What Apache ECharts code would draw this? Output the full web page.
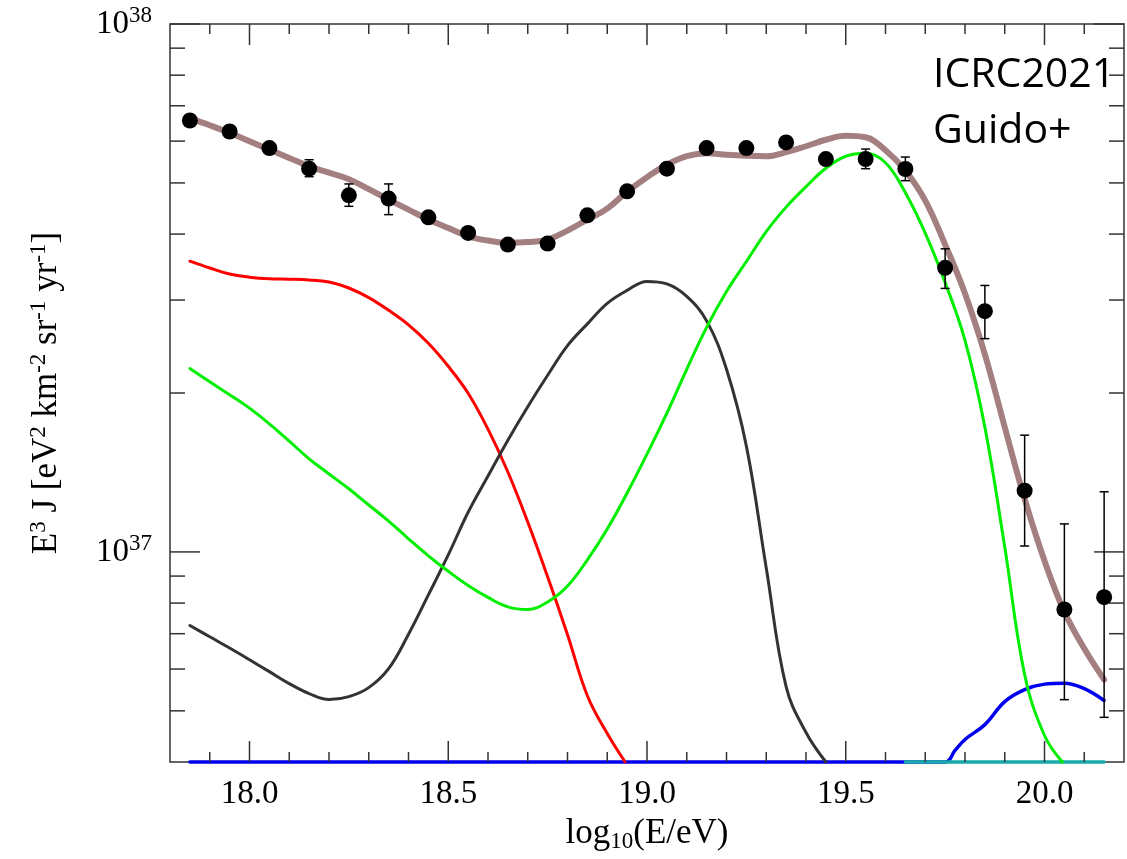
<!DOCTYPE html>
<html><head><meta charset="utf-8">
<script src="https://cdn.jsdelivr.net/npm/echarts@6/dist/echarts.min.js"></script>
<style>html,body{margin:0;padding:0;background:#fff}#c{width:1127px;height:859px}</style>
</head><body><div id="c"></div>
<script>
// All flux values are in units of 1e37 eV^2 km^-2 sr^-1 yr^-1
const dataE    = [17.85,17.95,18.05,18.15,18.25,18.35,18.45,18.55,18.65,18.75,18.85,18.95,19.05,19.15,19.25,19.35,19.45,19.55,19.65,19.75,19.85,19.95,20.05,20.15];
const dataFlux = [6.565,6.257,5.821,5.320,4.736,4.669,4.303,4.021,3.821,3.838,4.341,4.820,5.320,5.821,5.821,5.965,5.549,5.549,5.313,3.453,2.858,1.306,0.778,0.821];
const dataLow  = [null,null,null,5.138,4.515,4.354,null,null,null,null,null,null,null,null,null,null,null,5.320,5.049,3.156,2.535,1.026,0.525,0.486];
const dataHigh = [null,null,null,5.532,4.978,4.978,null,null,null,null,null,null,null,null,null,null,null,5.796,5.598,3.751,3.197,1.664,1.130,1.300];

const totalE = [17.85,17.9,17.95,18.0,18.05,18.1,18.15,18.2,18.25,18.3,18.35,18.4,18.45,18.5,18.55,18.6,18.65,18.7,18.75,18.8,18.85,18.9,18.95,19.0,19.05,19.1,19.15,19.2,19.25,19.3,19.35,19.4,19.45,19.5,19.55,19.6,19.65,19.7,19.75,19.8,19.85,19.9,19.95,20.0,20.05,20.1,20.15];
const totalFlux = [6.633,6.429,6.220,5.996,5.784,5.576,5.376,5.228,5.082,4.865,4.650,4.451,4.261,4.106,3.962,3.889,3.850,3.863,3.906,4.061,4.261,4.470,4.813,5.127,5.413,5.617,5.691,5.654,5.629,5.617,5.717,5.867,6.036,6.142,6.101,5.766,5.274,4.628,3.821,3.088,2.368,1.723,1.260,0.962,0.770,0.656,0.573];

const redE = [17.85,17.9,17.95,18.0,18.05,18.1,18.15,18.2,18.25,18.3,18.35,18.4,18.45,18.5,18.55,18.6,18.65,18.7,18.75,18.8,18.85,18.9,18.945];
const redFlux = [3.554,3.450,3.360,3.315,3.292,3.286,3.275,3.245,3.162,3.031,2.868,2.692,2.484,2.247,1.998,1.708,1.417,1.139,0.897,0.697,0.534,0.453,0.4];

const greenE = [17.85,17.9,17.95,18.0,18.05,18.1,18.15,18.2,18.25,18.3,18.35,18.4,18.45,18.5,18.55,18.6,18.65,18.7,18.75,18.8,18.85,18.9,18.95,19.0,19.05,19.1,19.15,19.2,19.25,19.3,19.35,19.4,19.45,19.5,19.55,19.6,19.65,19.7,19.75,19.8,19.85,19.9,19.95,20.0,20.045];
const greenFlux = [2.225,2.100,1.985,1.872,1.748,1.621,1.501,1.405,1.317,1.227,1.144,1.059,0.983,0.919,0.864,0.820,0.787,0.778,0.804,0.862,0.966,1.105,1.293,1.532,1.832,2.218,2.663,3.114,3.549,4.044,4.499,4.919,5.331,5.617,5.691,5.460,4.792,4.018,3.239,2.516,1.723,1.022,0.586,0.449,0.4];

const grayE = [17.85,17.9,17.95,18.0,18.05,18.1,18.15,18.2,18.25,18.3,18.35,18.4,18.45,18.5,18.55,18.6,18.65,18.7,18.75,18.8,18.85,18.9,18.95,19.0,19.05,19.1,19.15,19.2,19.25,19.3,19.35,19.4,19.45];
const grayFlux = [0.7255,0.6907,0.6576,0.6249,0.5932,0.5630,0.5390,0.5251,0.5320,0.5533,0.6010,0.6983,0.8291,0.9870,1.1887,1.3923,1.6283,1.8842,2.1609,2.4594,2.7036,2.9566,3.1285,3.2532,3.2180,3.0473,2.7391,2.2178,1.5864,0.9327,0.5557,0.4548,0.4];

const blueE = [17.85,19.75,19.775,19.8,19.85,19.9,19.95,20.0,20.05,20.1,20.15];
const blueFlux = [0.4,0.4,0.4207,0.4413,0.4708,0.5206,0.5485,0.5618,0.5642,0.5509,0.5230];

const tealE = [19.65,20.15];
const tealFlux = [0.4,0.4];

const xMajorTicks = [18.0,18.5,19.0,19.5,20.0];
const xMinorTicks = [17.9,18.1,18.2,18.3,18.4,18.6,18.7,18.8,18.9,19.1,19.2,19.3,19.4,19.6,19.7,19.8,19.9,20.1];
const yMajorTicks = [1,10];
const yMinorTicks = [0.5,0.6,0.7,0.8,0.9,2,3,4,5,6,7,8,9];
const yLabels = {1:'37', 10:'38'};

const X_MIN = 17.8, X_MAX = 20.2, Y_MIN = 0.4, Y_MAX = 10;
const SERIF = '"Liberation Serif","DejaVu Serif",serif';
const AXC = '#333';

function pairs(xs, ys){ return xs.map((x,i)=>[x, ys[i]]); }

function tickSeries(values, axis, len){
  return {
    type:'custom', silent:true, z:6, clip:false,
    data: values.map(v => axis==='x' ? [v, 1] : [18, v]),
    renderItem: function(params, api){
      const cs = params.coordSys;
      const p = api.coord([api.value(0), api.value(1)]);
      const st = {stroke:AXC, lineWidth:1.5};
      if (axis === 'x'){
        const x = p[0], b = cs.y + cs.height, t = cs.y;
        return {type:'group', children:[
          {type:'line', shape:{x1:x,y1:b,x2:x,y2:b-len}, style:st},
          {type:'line', shape:{x1:x,y1:t,x2:x,y2:t+len}, style:st}
        ]};
      } else {
        const y = p[1], l = cs.x, r = cs.x + cs.width;
        return {type:'group', children:[
          {type:'line', shape:{x1:l,y1:y,x2:l+len,y2:y}, style:st},
          {type:'line', shape:{x1:r,y1:y,x2:r-len,y2:y}, style:st}
        ]};
      }
    }
  };
}

function lineSeries(xs, ys, color, width, z){
  return {type:'line', data:pairs(xs, ys), showSymbol:false, smooth:0.4,
          clip:false, z:z, silent:true,
          lineStyle:{color:color, width:width, cap:'round', join:'round'}};
}

const errData = [];
dataE.forEach((e,i)=>{ if (dataLow[i] != null) errData.push([e, dataLow[i], dataHigh[i]]); });

const chart = echarts.init(document.getElementById('c'), null, {renderer:'canvas'});
chart.setOption({
  backgroundColor:'#fff',
  animation:false,
  grid:{left:170, top:24, width:961, height:738, show:true, borderColor:AXC, borderWidth:1.5, backgroundColor:'transparent'},
  xAxis:{
    type:'value', min:X_MIN, max:X_MAX, interval:0.1,
    axisLine:{show:false}, axisTick:{show:false}, splitLine:{show:false},
    axisLabel:{
      margin:16, color:'#000', fontFamily:SERIF, fontSize:33,
      formatter:function(v){ const r = Math.round(v*10); return (r % 5 === 0) ? (r/10).toFixed(1) : ''; }
    },
    name:'{n|log}{sub|10}{n|(E/eV)}', nameLocation:'middle', nameGap:46,
    nameTextStyle:{color:'#000', fontFamily:SERIF, fontSize:35,
      rich:{n:{fontFamily:SERIF, fontSize:35, color:'#000'},
            sub:{fontFamily:SERIF, fontSize:23, color:'#000', padding:[18,0,0,0]}}}
  },
  yAxis:{
    type:'log', logBase:10, min:Y_MIN, max:Y_MAX,
    axisLine:{show:false}, axisTick:{show:false}, splitLine:{show:false}, minorTick:{show:false},
    axisLabel:{
      margin:18, color:'#000', showMinLabel:false,
      formatter:function(v){
        const lg = Math.log10(v); const r = Math.round(lg);
        if (Math.abs(lg - r) > 1e-6) return '';
        const key = Math.round(Math.pow(10, r));
        return yLabels[key] ? '{b|10}{s|' + yLabels[key] + '}' : '';
      },
      rich:{b:{fontFamily:SERIF, fontSize:33, color:'#000'},
            s:{fontFamily:SERIF, fontSize:23, color:'#000', padding:[0,0,16,0]}}
    },
    name:'{n|E}{s|3}{n| J [eV}{s|2}{n| km}{s|-2}{n| sr}{s|-1}{n| yr}{s|-1}{n|]}',
    nameLocation:'middle', nameRotate:90, nameGap:104,
    nameTextStyle:{color:'#000', fontFamily:SERIF, fontSize:35,
      rich:{n:{fontFamily:SERIF, fontSize:35, color:'#000'},
            s:{fontFamily:SERIF, fontSize:23, color:'#000', padding:[0,0,16,0]}}}
  },
  graphic:[
    {type:'text', left:933, top:55, z:100, style:{text:'ICRC2021', font:'41px "Open Sans"', fill:'#000'}},
    {type:'text', left:933, top:111, z:100, style:{text:'Guido+', font:'41px "Open Sans"', fill:'#000'}}
  ],
  series:[
    lineSeries(blueE, blueFlux, '#0000ee', 3.5, 2),
    lineSeries(tealE, tealFlux, '#1aa9a9', 3.5, 2),
    lineSeries(redE, redFlux, '#ff0000', 3, 3),
    lineSeries(grayE, grayFlux, '#333333', 3, 3),
    lineSeries(greenE, greenFlux, '#00ee00', 3, 3),
    lineSeries(totalE, totalFlux, '#a47f7f', 6, 4),
    {
      type:'custom', z:7, silent:true, clip:false, data:errData,
      renderItem:function(params, api){
        const x = api.value(0);
        const lo = api.coord([x, api.value(1)]);
        const hi = api.coord([x, api.value(2)]);
        const st = {stroke:'#000', lineWidth:1.5};
        const w = 4.5;
        return {type:'group', children:[
          {type:'line', shape:{x1:lo[0],y1:lo[1],x2:hi[0],y2:hi[1]}, style:st},
          {type:'line', shape:{x1:lo[0]-w,y1:lo[1],x2:lo[0]+w,y2:lo[1]}, style:st},
          {type:'line', shape:{x1:hi[0]-w,y1:hi[1],x2:hi[0]+w,y2:hi[1]}, style:st}
        ]};
      }
    },
    {type:'scatter', z:8, silent:true, data:pairs(dataE, dataFlux), symbol:'circle', symbolSize:16,
     itemStyle:{color:'#000', opacity:1}},
    tickSeries(xMajorTicks, 'x', 21),
    tickSeries(xMinorTicks, 'x', 10),
    tickSeries(yMajorTicks, 'y', 30),
    tickSeries(yMinorTicks, 'y', 15)
  ]
});
</script></body></html>
